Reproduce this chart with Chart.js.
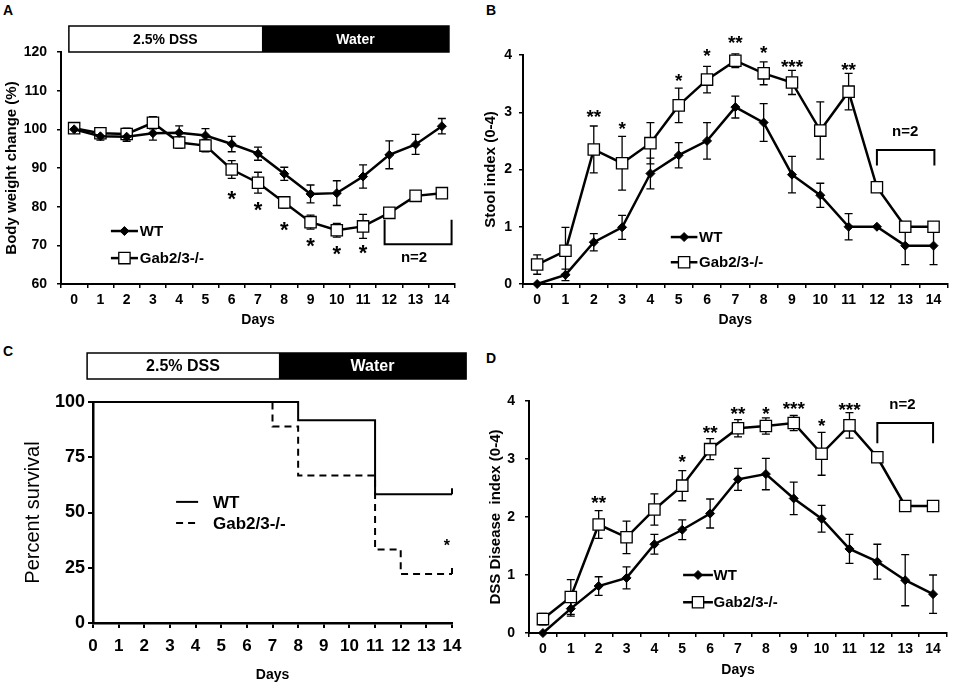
<!DOCTYPE html>
<html>
<head>
<meta charset="utf-8">
<script src="https://cdn.jsdelivr.net/npm/chart.js@4.4.0/dist/chart.umd.min.js"></script>
<style>
    body { margin: 0; background: #fff; width: 957px; height: 687px; position: relative; overflow: hidden; font-family: "Liberation Sans", Arial, sans-serif; }
    canvas { position: absolute; }
    .lbl { position: absolute; font-weight: bold; font-size: 14px; }
</style>
</head>
<body>
<div class="lbl" style="left:3px;top:2px">A</div>
<div class="lbl" style="left:486px;top:2px">B</div>
<div class="lbl" style="left:3px;top:343px">C</div>
<div class="lbl" style="left:486px;top:350px">D</div>
<canvas id="chartA" width="470" height="340" style="left:0;top:0"></canvas>
<canvas id="chartB" width="487" height="340" style="left:470px;top:0"></canvas>
<canvas id="chartC" width="470" height="347" style="left:0;top:340px"></canvas>
<canvas id="chartD" width="487" height="347" style="left:470px;top:340px"></canvas>
<script>
const days = ['0', '1', '2', '3', '4', '5', '6', '7', '8', '9', '10', '11', '12', '13', '14'];

// A - body weight change (%)
const weightWT = [100, 98.2, 98.1, 99, 99.1, 98.4, 96.2, 93.7, 88.5, 83.3, 83.5, 87.8, 93.4, 96.1, 100.8];
const weightWTErr = [0.4, 1, 1.2, 1.8, 1.8, 1.8, 2, 1.7, 1.7, 2.3, 3.2, 3, 3.6, 2.6, 2];
const weightGab = [100.3, 99, 98.8, 101.7, 96.6, 95.8, 89.6, 86.2, 81.1, 76, 73.9, 74.9, 78.4, 82.8, 83.5];
const weightGabErr = [0.4, 1, 1.5, 1.6, 1.5, 1.6, 2.3, 2.7, 1.5, 1.8, 1.8, 3.1, 0, 0, 0];
const weightStars = [[6, 83.5, '*'], [7, 80.7, '*'], [8, 75.3, '*'], [9, 71.4, '*'], [10, 69.2, '*'], [11, 69.5, '*']];

// B - stool index
const stoolWT = [0, 0.16, 0.73, 0.99, 1.93, 2.25, 2.5, 3.09, 2.82, 1.91, 1.55, 1, 1, 0.67, 0.67];
const stoolWTErr = [0, 0.1, 0.15, 0.21, 0.27, 0.22, 0.32, 0.19, 0.33, 0.32, 0.21, 0.23, 0, 0.33, 0.33];
const stoolGab = [0.34, 0.58, 2.35, 2.11, 2.46, 3.12, 3.57, 3.9, 3.68, 3.52, 2.68, 3.36, 1.69, 1, 1];
const stoolGabErr = [0.17, 0.41, 0.41, 0.47, 0.36, 0.3, 0.23, 0.12, 0.2, 0.21, 0.5, 0.32, 0, 0, 0];
const stoolStars = [[2, 3.0, '**'], [3, 2.8, '*'], [5, 3.63, '*'], [6, 4.06, '*'], [7, 4.3, '**'], [8, 4.12, '*'], [9, 3.87, '***'], [11, 3.83, '**']];

// C - survival
const survDaysWT = [0, 8, 11, 14];
const survWT = [100, 91.7, 58.3, 58.3];
const survDaysGab = [0, 7, 8, 11, 12, 14];
const survGab = [100, 88.9, 66.7, 33.3, 22.2, 22.2];

// D - DSS disease index
const dssWT = [0, 0.42, 0.81, 0.95, 1.53, 1.78, 2.06, 2.65, 2.74, 2.32, 1.97, 1.45, 1.23, 0.91, 0.67];
const dssWTErr = [0, 0.13, 0.16, 0.19, 0.17, 0.17, 0.25, 0.19, 0.27, 0.28, 0.23, 0.25, 0.3, 0.44, 0.33];
const dssGab = [0.24, 0.62, 1.87, 1.65, 2.13, 2.54, 3.17, 3.53, 3.57, 3.62, 3.09, 3.58, 3.03, 2.19, 2.19];
const dssGabErr = [0.1, 0.3, 0.24, 0.28, 0.27, 0.26, 0.18, 0.15, 0.14, 0.13, 0.37, 0.22, 0, 0, 0];
const dssStars = [[2, 2.32, '**'], [5, 3.04, '*'], [6, 3.53, '**'], [7, 3.86, '**'], [8, 3.86, '*'], [9, 3.95, '***'], [10, 3.65, '*'], [11, 3.93, '***']];

const FONT = '"Liberation Sans", Arial, sans-serif';

function starText(ctx, text, x, yc, size) {
    ctx.font = 'bold ' + size + 'px ' + FONT;
    ctx.textAlign = 'center';
    ctx.textBaseline = 'alphabetic';
    ctx.fillText(text, x, yc + size * 0.575);
}

const extras = {
    id: 'extras',
    beforeDatasetsDraw(chart, args, opts) {
        const ctx = chart.ctx;
        const yS = chart.scales.y;
        (opts.errors || []).forEach((err, i) => {
            const meta = chart.getDatasetMeta(i);
            const vals = chart.data.datasets[i].data;
            ctx.save();
            ctx.strokeStyle = '#000';
            ctx.lineWidth = 1.3;
            meta.data.forEach((pt, j) => {
                if (!err[j]) return;
                const y1 = yS.getPixelForValue(vals[j] + err[j]);
                const y2 = yS.getPixelForValue(vals[j] - err[j]);
                ctx.beginPath();
                ctx.moveTo(pt.x, y1); ctx.lineTo(pt.x, y2);
                ctx.moveTo(pt.x - 4, y1); ctx.lineTo(pt.x + 4, y1);
                ctx.moveTo(pt.x - 4, y2); ctx.lineTo(pt.x + 4, y2);
                ctx.stroke();
            });
            ctx.restore();
        });
    },
    afterDraw(chart, args, opts) {
        const ctx = chart.ctx;
        const xS = chart.scales.x, yS = chart.scales.y;
        const top = chart.chartArea.top;
        ctx.save();
        ctx.fillStyle = '#000';
        ctx.strokeStyle = '#000';

        // DSS / water band
        if (opts.band) {
            const b = opts.band;
            const x0 = xS.getPixelForValue(b.x[0]), x1 = xS.getPixelForValue(b.x[1]), x2 = xS.getPixelForValue(b.x[2]);
            const yb = top - b.gap, yt = yb - b.h;
            ctx.fillStyle = '#fff';
            ctx.fillRect(x0, yt, x1 - x0, b.h);
            ctx.fillStyle = '#000';
            ctx.fillRect(x1, yt, x2 - x1, b.h);
            ctx.lineWidth = 1.5;
            ctx.strokeRect(x0, yt, x2 - x0, b.h);
            ctx.font = 'bold ' + b.size + 'px ' + FONT;
            ctx.textAlign = 'center';
            ctx.textBaseline = 'middle';
            ctx.fillText('2.5% DSS', (x0 + x1) / 2, yt + b.h / 2 + 1);
            ctx.fillStyle = '#fff';
            ctx.fillText('Water', (x1 + x2) / 2, yt + b.h / 2 + 1);
            ctx.fillStyle = '#000';
        }

        // significance stars
        (opts.stars || []).forEach(s => {
            starText(ctx, s[2], xS.getPixelForValue(s[0]), yS.getPixelForValue(s[1]), opts.starSize || 18);
        });

        // n=2 bracket
        if (opts.bracket) {
            const b = opts.bracket;
            const xa = xS.getPixelForValue(b.x[0]), xb = xS.getPixelForValue(b.x[1]);
            const yo = yS.getPixelForValue(b.open), yc = yS.getPixelForValue(b.closed);
            ctx.lineWidth = 2;
            ctx.beginPath();
            ctx.moveTo(xa, yo); ctx.lineTo(xa, yc); ctx.lineTo(xb, yc); ctx.lineTo(xb, yo);
            ctx.stroke();
            ctx.font = 'bold 15px ' + FONT;
            ctx.textAlign = 'center';
            ctx.textBaseline = 'middle';
            ctx.fillText('n=2', xS.getPixelForValue(b.text[0]), yS.getPixelForValue(b.text[1]));
        }

        // censor marks at end of survival curves
        (opts.censor || []).forEach(c => {
            const x = xS.getPixelForValue(c[0]), y = yS.getPixelForValue(c[1]);
            ctx.lineWidth = 2;
            ctx.beginPath(); ctx.moveTo(x, y); ctx.lineTo(x, y - 6); ctx.stroke();
        });

        // legend inside plot
        if (opts.legend) {
            const L = opts.legend;
            const xa = xS.getPixelForValue(L.x[0]), xb = xS.getPixelForValue(L.x[1]), xt = xS.getPixelForValue(L.x[2]);
            chart.data.datasets.forEach((ds, i) => {
                const y = yS.getPixelForValue(L.y[i]);
                ctx.lineWidth = ds.borderWidth;
                ctx.setLineDash(ds.borderDash || []);
                ctx.beginPath(); ctx.moveTo(xa, y); ctx.lineTo(xb, y); ctx.stroke();
                ctx.setLineDash([]);
                if (ds.pointRadius) {
                    ctx.fillStyle = ds.pointBackgroundColor;
                    ctx.lineWidth = ds.pointBorderWidth;
                    Chart.helpers.drawPoint(ctx, {pointStyle: ds.pointStyle, radius: ds.pointRadius, borderWidth: ds.pointBorderWidth, rotation: 0}, (xa + xb) / 2, y);
                }
                ctx.fillStyle = '#000';
                ctx.font = 'bold ' + L.size + 'px ' + FONT;
                ctx.textAlign = 'left';
                ctx.textBaseline = 'middle';
                ctx.fillText(ds.label, xt, y + 1);
            });
        }
        ctx.restore();
    }
};

function lineChart(id, wt, gab, ext, y, box) {
    return new Chart(document.getElementById(id), {
        type: 'line',
        data: {
            labels: days,
            datasets: [
                {
                    label: 'WT',
                    data: wt,
                    borderColor: '#000',
                    borderWidth: 2.5,
                    pointStyle: 'rectRot',
                    pointRadius: 4.5,
                    pointBackgroundColor: '#000',
                    pointBorderColor: '#000',
                    pointBorderWidth: 1,
                    clip: false
                },
                {
                    label: 'Gab2/3-/-',
                    data: gab,
                    borderColor: '#000',
                    borderWidth: 2.5,
                    pointStyle: 'rect',
                    pointRadius: 8,
                    pointBackgroundColor: '#fff',
                    pointBorderColor: '#000',
                    pointBorderWidth: 1.3,
                    clip: false
                }
            ]
        },
        options: {
            responsive: false,
            animation: false,
            layout: { padding: box.pad },
            plugins: { legend: { display: false }, tooltip: { enabled: false }, extras: ext },
            scales: {
                x: {
                    type: 'category',
                    offset: true,
                    afterFit: s => { s.height = box.xh; },
                    grid: { offset: true, drawOnChartArea: false, tickLength: 4, color: '#000', lineWidth: 1.5 },
                    border: { color: '#000', width: 2 },
                    ticks: { color: '#000', padding: 4, maxRotation: 0, autoSkip: false, font: { family: FONT, size: 14, weight: 'bold' } },
                    title: { display: true, text: 'Days', color: '#000', padding: { top: 0, bottom: box.titleB }, font: { family: FONT, size: 14, weight: 'bold' } }
                },
                y: {
                    min: y.min,
                    max: y.max,
                    afterFit: s => { s.width = box.yw; },
                    grid: { drawOnChartArea: false, tickLength: 4, color: '#000', lineWidth: 1.5 },
                    border: { color: '#000', width: 2 },
                    ticks: { stepSize: y.step, color: '#000', padding: box.tickPad, font: { family: FONT, size: 14, weight: 'bold' } },
                    title: { display: true, text: y.title, color: '#000', padding: { top: box.titleL, bottom: 0 }, font: { family: FONT, size: 15, weight: 'bold' } }
                }
            }
        },
        plugins: [extras]
    });
}

Chart.defaults.font.family = FONT;

lineChart('chartA', weightWT, weightGab, {
    errors: [weightWTErr, weightGabErr],
    stars: weightStars,
    starSize: 22,
    band: { x: [-0.2, 7.15, 14.27], gap: 0, h: 26, size: 14 },
    bracket: { x: [11.82, 14.37], open: 76.6, closed: 70.3, text: [12.94, 66.7] },
    legend: { x: [1.4, 2.43, 2.5], y: [73.7, 66.7], size: 15 }
}, { min: 60, max: 120, step: 10, title: 'Body weight change (%)' },
   { pad: { top: 52, right: 15, left: 0, bottom: 0 }, xh: 56, yw: 61, tickPad: 10, titleL: 3, titleB: 11 });

lineChart('chartB', stoolWT, stoolGab, {
    errors: [stoolWTErr, stoolGabErr],
    stars: stoolStars,
    starSize: 19,
    bracket: { x: [12.0, 14.03], open: 2.07, closed: 2.34, text: [13.0, 2.65] },
    legend: { x: [4.72, 5.66, 5.72], y: [0.82, 0.38], size: 15 }
}, { min: 0, max: 4, step: 1, title: 'Stool index (0-4)' },
   { pad: { top: 55, right: 3, left: 6, bottom: 0 }, xh: 56, yw: 47, tickPad: 7, titleL: 6, titleB: 11 });

lineChart('chartD', dssWT, dssGab, {
    errors: [dssWTErr, dssGabErr],
    stars: dssStars,
    starSize: 19,
    bracket: { x: [12.0, 14.0], open: 3.27, closed: 3.62, text: [12.9, 3.93] },
    legend: { x: [5.03, 6.1, 6.12], y: [1.0, 0.53], size: 15 }
}, { min: 0, max: 4, step: 1, title: 'DSS Disease  index (0-4)' },
   { pad: { top: 61, right: 10, left: 8, bottom: 0 }, xh: 54, yw: 51, tickPad: 10, titleL: 9, titleB: 8 });

// C - Kaplan-Meier survival
new Chart(document.getElementById('chartC'), {
    type: 'line',
    data: {
        datasets: [
            {
                label: 'WT',
                data: survDaysWT.map((d, i) => ({ x: d, y: survWT[i] })),
                borderColor: '#000',
                borderWidth: 2,
                stepped: 'before',
                pointRadius: 0,
                clip: false
            },
            {
                label: 'Gab2/3-/-',
                data: survDaysGab.map((d, i) => ({ x: d, y: survGab[i] })),
                borderColor: '#000',
                borderWidth: 2,
                borderDash: [7, 5],
                stepped: 'before',
                pointRadius: 0,
                clip: false
            }
        ]
    },
    options: {
        responsive: false,
        animation: false,
        layout: { padding: { top: 62, right: 18, left: 0, bottom: 0 } },
        plugins: {
            legend: { display: false },
            tooltip: { enabled: false },
            extras: {
                band: { x: [-0.23, 7.25, 14.55], gap: 23, h: 26, size: 16 },
                stars: [[13.8, 36.7, '*']],
                starSize: 16,
                censor: [[14, survWT[survWT.length - 1]], [14, survGab[survGab.length - 1]]],
                legend: { x: [3.24, 4.1, 4.68], y: [54.8, 45.2], size: 17 }
            }
        },
        scales: {
            x: {
                type: 'linear',
                min: 0,
                max: 14,
                afterFit: s => { s.height = 64; },
                grid: { drawOnChartArea: false, tickLength: 5, color: '#000', lineWidth: 2 },
                border: { color: '#000', width: 2.5 },
                ticks: { stepSize: 1, color: '#000', padding: 8, maxRotation: 0, minRotation: 0, autoSkip: false, font: { family: FONT, size: 17, weight: 'bold' } },
                title: { display: true, text: 'Days', color: '#000', padding: { top: 0, bottom: 3 }, font: { family: FONT, size: 14, weight: 'bold' } }
            },
            y: {
                min: 0,
                max: 100,
                afterFit: s => { s.width = 93; },
                grid: { drawOnChartArea: false, tickLength: 5, color: '#000', lineWidth: 2 },
                border: { color: '#000', width: 2.5 },
                ticks: { stepSize: 25, color: '#000', padding: 3, font: { family: FONT, size: 18, weight: 'bold' } },
                title: { display: true, text: 'Percent survival', color: '#000', padding: { top: 21, bottom: 0 }, font: { family: FONT, size: 20 } }
            }
        }
    },
    plugins: [extras]
});
</script>
</body>
</html>
